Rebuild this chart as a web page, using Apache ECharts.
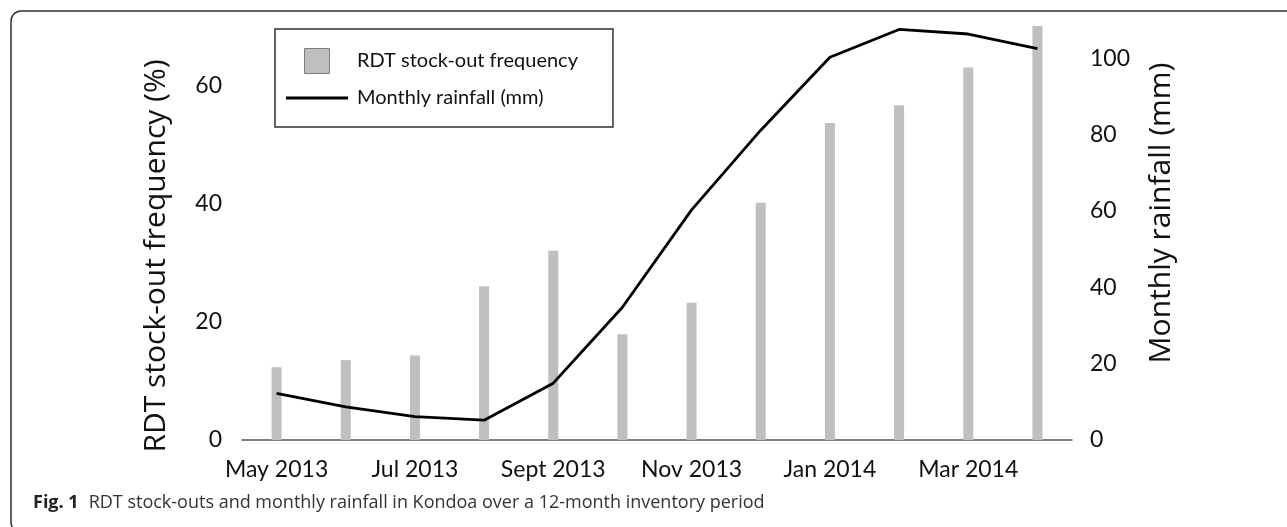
<!DOCTYPE html>
<html><head><meta charset="utf-8">
<script src="https://cdn.jsdelivr.net/npm/echarts@6/dist/echarts.min.js"></script>
<style>html,body{margin:0;padding:0;background:#fff}#c{width:1287px;height:527px}</style>
</head><body><div id="c"></div>
<script>
const categories = ['May 2013','Jun 2013','Jul 2013','Aug 2013','Sept 2013','Oct 2013','Nov 2013','Dec 2013','Jan 2014','Feb 2014','Mar 2014','Apr 2014'];
const stockOut = [12.3, 13.5, 14.3, 26.0, 32.0, 17.9, 23.2, 40.1, 53.6, 56.6, 63.0, 70.0];
const rainfall = [12.2, 8.7, 6.1, 5.2, 14.9, 34.8, 60.3, 81.2, 100.3, 107.6, 106.4, 102.6];
const leftTicks = [0, 20, 40, 60];
const rightTicks = [0, 20, 40, 60, 80, 100];

const labelFont = 'Lato';
const titleFont = 'Open Sans';

const chart = echarts.init(document.getElementById('c'), null, {renderer: 'canvas'});
chart.setOption({
  animation: false,
  backgroundColor: '#fff',
  title: {
    left: 28, top: 489,
    text: '{b|Fig. 1}  {n|RDT stock-outs and monthly rainfall in Kondoa over a 12-month inventory period}',
    textStyle: {
      fontWeight: 'normal',
      rich: {
        b: {fontFamily: titleFont, fontSize: 18, fontWeight: 'bold', color: '#222'},
        n: {fontFamily: titleFont, fontSize: 18, fontWeight: 'normal', color: '#333'}
      }
    }
  },
  graphic: [{
    type: 'rect', silent: true, z: -1,
    shape: {x: 11, y: 11, width: 1300, height: 521, r: 10},
    style: {fill: 'none', stroke: '#333', lineWidth: 1.5}
  }],
  legend: {
    orient: 'vertical', left: 275, top: 29,
    padding: [19, 35, 19, 11], itemGap: 14,
    itemWidth: 62, itemHeight: 25,
    borderColor: '#333', borderWidth: 1.5,
    selectedMode: false,
    textStyle: {fontFamily: labelFont, fontSize: 20, color: '#111', padding: [0, 0, 0, 4]},
    data: [
      {name: 'RDT stock-out frequency', icon: 'path://M0,0H10V10H0Z',
       itemStyle: {color: '#bfbfbf', borderColor: '#7f7f7f', borderWidth: 1}},
      {name: 'Monthly rainfall (mm)', icon: 'path://M0,0H62V2.8H0Z',
       itemStyle: {color: '#000', borderWidth: 0}}
    ]
  },
  grid: {left: 242, right: 215, top: 26, bottom: 87, containLabel: false},
  xAxis: {
    type: 'category', data: categories, boundaryGap: true,
    axisLine: {show: true, lineStyle: {color: '#555', width: 1.5}},
    axisTick: {show: false},
    axisLabel: {interval: 1, margin: 18, fontFamily: labelFont, fontSize: 23, color: '#111'},
    splitLine: {show: false}
  },
  yAxis: [{
    type: 'value', min: 0, max: 70, interval: 20, position: 'left',
    name: 'RDT stock-out frequency (%)', nameLocation: 'middle', nameGap: 71,
    nameTextStyle: {fontFamily: titleFont, fontSize: 30, color: '#111', padding: [0, 46, 0, 0]},
    axisLine: {show: false}, axisTick: {show: false}, splitLine: {show: false},
    axisLabel: {margin: 20, fontFamily: labelFont, fontSize: 23, color: '#111',
      formatter: v => leftTicks.includes(v) ? String(v) : ''}
  }, {
    type: 'value', min: 0, max: 108.5, interval: 20, position: 'right',
    name: 'Monthly rainfall (mm)', nameLocation: 'middle', nameGap: 74,
    nameTextStyle: {fontFamily: titleFont, fontSize: 30, color: '#111', padding: [0, 0, 0, 40]},
    axisLine: {show: false}, axisTick: {show: false}, splitLine: {show: false},
    axisLabel: {margin: 18, fontFamily: labelFont, fontSize: 23, color: '#111',
      formatter: v => rightTicks.includes(v) ? String(v) : ''}
  }],
  series: [{
    name: 'RDT stock-out frequency', type: 'bar', yAxisIndex: 0,
    data: stockOut, barWidth: 10, itemStyle: {color: '#bfbfbf'}
  }, {
    name: 'Monthly rainfall (mm)', type: 'line', yAxisIndex: 1,
    data: rainfall, symbol: 'none', z: 5,
    lineStyle: {color: '#000', width: 2.8}, itemStyle: {color: '#000'}
  }]
});
</script></body></html>
